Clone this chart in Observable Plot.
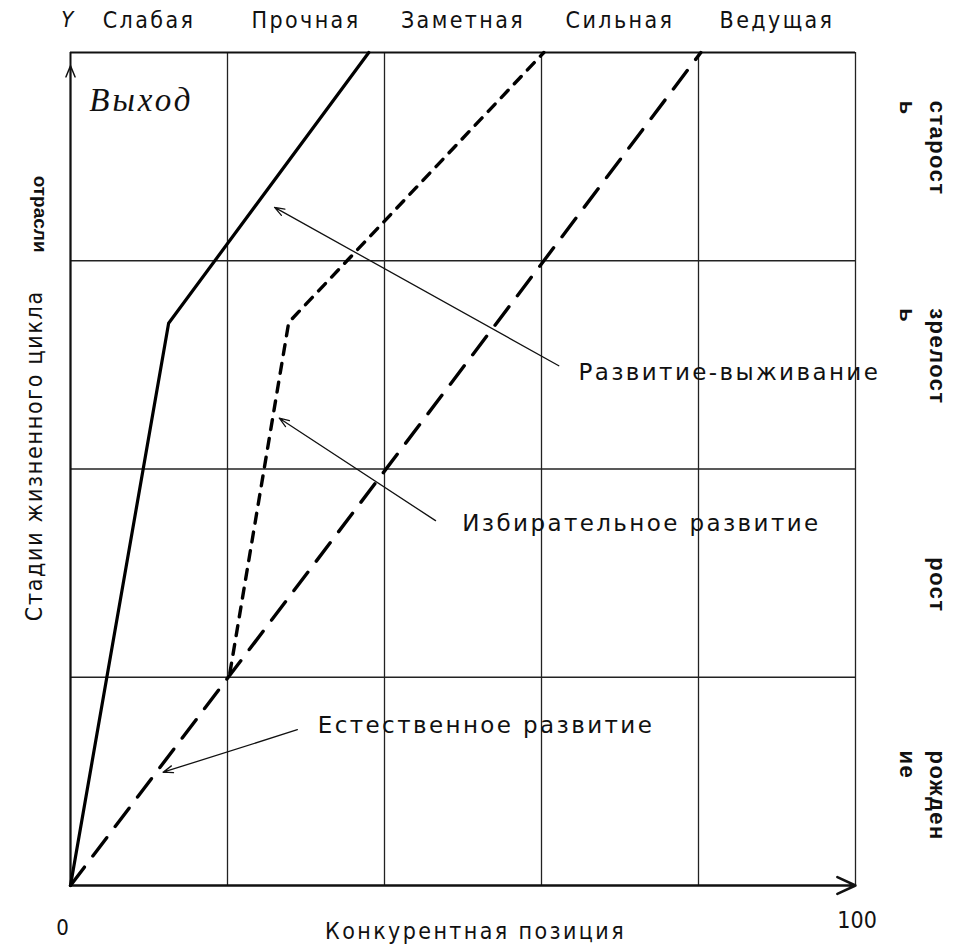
<!DOCTYPE html>
<html><head><meta charset="utf-8">
<script src="https://cdn.jsdelivr.net/npm/d3@7"></script>
<script src="https://cdn.jsdelivr.net/npm/@observablehq/plot@0.6"></script>
<style>
body{margin:0;background:#fff;}
</style></head><body><div id="chart"></div>
<script>
// Top column labels (competitive position) and their column centres
const positions = ["Слабая","Прочная","Заметная","Сильная","Ведущая"];
const positionCenters = [10,30,50,70,90];
// Life-cycle stages (right side), with the y where each label starts
const stages = ["старост\nь","зрелост\nь","рост","рожден\nие"];
const stageStarts = [94.2, 69.3, 39.4, 16.2];
// Series
const exitX = [0, 12.5, 38];
const exitY = [0, 67.5, 100];
const selectiveX = [20.3, 27.8, 60.3];
const selectiveY = [25.5, 67.6, 100];
const naturalX = [0, 60.3, 80.3];
const naturalY = [0, 75, 100];
// Grid
const xGrid = [20,40,60,80,100];
const yGrid = [25,50,75,100];
// Annotations
const annLabels = ["Развитие-выживание","Избирательное развитие","Естественное развитие"];
const annTextX = [64.7, 49.9, 31.5];
const annTextY = [61.6, 43.5, 19.2];
const annFromX = [62.2, 46.5, 28.9];
const annFromY = [62.4, 43.8, 18.7];
const annToX = [26.0, 26.6, 11.8];
const annToY = [81.4, 56.1, 13.6];

const toPts = (xs, ys) => xs.map((x, i) => ({x, y: ys[i]}));
const exitPts = toPts(exitX, exitY);
const selPts = toPts(selectiveX, selectiveY);
const natPts = toPts(naturalX, naturalY);
const anns = annLabels.map((t, i) => ({t, tx: annTextX[i], ty: annTextY[i], x1: annFromX[i], y1: annFromY[i], x2: annToX[i], y2: annToY[i]}));
const tops = positions.map((t, i) => ({t, x: positionCenters[i]}));
const stageData = stages.map((t, i) => ({t, y: stageStarts[i]}));

const narrow = "'Liberation Sans Narrow','DejaVu Sans Condensed','Liberation Sans',sans-serif";
const wide = "'DejaVu Sans','Liberation Sans',sans-serif";

const chart = Plot.plot({
  width: 964, height: 945,
  marginLeft: 70, marginRight: 109, marginTop: 52, marginBottom: 60,
  x: {domain: [0, 100], axis: null},
  y: {domain: [0, 100], axis: null},
  style: {background: "#fff", color: "#111"},
  marks: [
    Plot.ruleX(xGrid, {x: d => d, y1: 0, y2: 100, stroke: "#222", strokeWidth: 1.3}),
    Plot.ruleY(yGrid.slice(0, 3), {y: d => d, x1: 0, x2: 100, stroke: "#222", strokeWidth: 1.4}),
    Plot.ruleY([100], {y: d => d, x1: 0, x2: 100, stroke: "#111", strokeWidth: 2.2}),
    Plot.arrow([{x1: 0, y1: 0, x2: 100, y2: 0}], {x1: "x1", y1: "y1", x2: "x2", y2: "y2", stroke: "#111", strokeWidth: 2.5, headLength: 12, headAngle: 50}),
    Plot.ruleX([0], {x: d => d, y1: 0, y2: 100, stroke: "#111", strokeWidth: 2}),
    Plot.arrow([{x1: 0, y1: 0, x2: 0, y2: 98.4}], {x1: "x1", y1: "y1", x2: "x2", y2: "y2", stroke: "#111", strokeWidth: 1.5, headLength: 12, headAngle: 45}),
    // series
    Plot.line(exitPts, {x: "x", y: "y", stroke: "#000", strokeWidth: 3.2}),
    Plot.line(selPts, {x: "x", y: "y", stroke: "#000", strokeWidth: 3.4, strokeDasharray: "10,9"}),
    Plot.line(natPts, {x: "x", y: "y", stroke: "#000", strokeWidth: 3.4, strokeDasharray: "23,14"}),
    // annotations
    Plot.arrow(anns, {x1: "x1", y1: "y1", x2: "x2", y2: "y2", stroke: "#111", strokeWidth: 1.3, headLength: 12, headAngle: 40}),
    Plot.text(anns, {x: "tx", y: "ty", text: "t", textAnchor: "start", fontFamily: wide, fontSize: 23, fill: "#111"}),
    // top labels
    Plot.text(tops, {x: "x", y: 103.8, text: "t", fontFamily: narrow, fontSize: 23, fill: "#111"}),
    Plot.text(["Y"], {x: -0.4, y: 103.9, text: d => d, fontFamily: narrow, fontSize: 22, fontStyle: "italic", fill: "#111"}),
    Plot.text(["Выход"], {x: 2.4, y: 94.2, text: d => d, textAnchor: "start", fontFamily: "'Liberation Serif',serif", fontStyle: "italic", fontSize: 33, fill: "#111"}),
    // right stage labels
    Plot.text(stageData, {x: 112.2, y: "y", text: "t", rotate: 90, textAnchor: "start", lineAnchor: "top", lineHeight: 1.35, fontFamily: "'Liberation Sans',Arial,sans-serif", fontWeight: "bold", fontSize: 22, fill: "#111"}),
    // left title
    Plot.text(["Стадии жизненного цикла"], {x: -4.6, y: 51.6, text: d => d, rotate: -90, fontFamily: narrow, fontSize: 23, fill: "#111"}),
    Plot.text(["отрасли"], {x: -3.9, y: 80.6, text: d => d, rotate: 90, fontFamily: "'Liberation Sans',Arial,sans-serif", fontWeight: "bold", fontSize: 19, fill: "#111"}),
    // bottom
    Plot.text(["0"], {x: -1.0, y: -5.1, text: d => d, fontFamily: narrow, fontSize: 22, fill: "#111"}),
    Plot.text(["100"], {x: 100.2, y: -4.2, text: d => d, fontFamily: narrow, fontSize: 23, fill: "#111"}),
    Plot.text(["Конкурентная позиция"], {x: 51.6, y: -5.5, text: d => d, fontFamily: narrow, fontSize: 23, fill: "#111"})
  ]
});
document.getElementById("chart").appendChild(chart);
// letter-spacing, matched by the text content
const spacing = new Map([
  ...annLabels.map(t => [t, "2.4px"]),
  ...positions.map(t => [t, "2.4px"]),
  ["Стадии жизненного цикла", "1.7px"],
  ["Конкурентная позиция", "2.4px"],
  ["Выход", "3px"],
  ...stages.map(t => [t.replace("\n", ""), "1.4px"])
]);
d3.select(chart).selectAll("text").each(function() {
  const s = spacing.get(this.textContent);
  if (s) this.style.letterSpacing = s;
});
</script></body></html>
